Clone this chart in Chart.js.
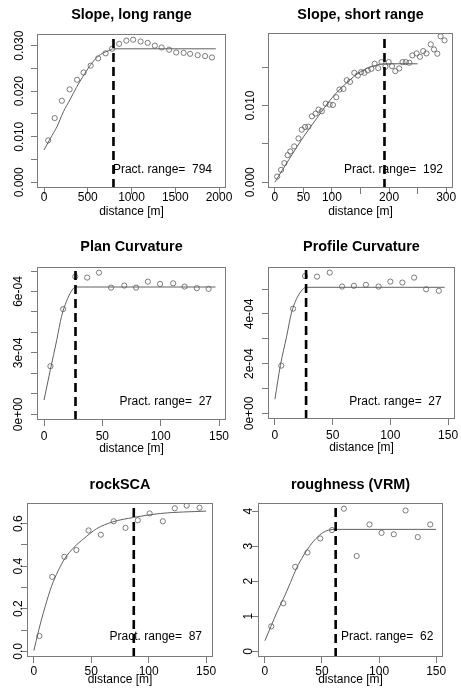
<!DOCTYPE html>
<html><head><meta charset="utf-8">
<script src="https://cdn.jsdelivr.net/npm/chart.js@4/dist/chart.umd.min.js"></script>
<style>
html,body{margin:0;padding:0;background:#fff;}
#wrap{position:relative;width:461px;height:690px;overflow:hidden;background:#fff;}
canvas{position:absolute;}
</style></head><body><div id="wrap">
<canvas id="c1"></canvas><canvas id="c2"></canvas><canvas id="c3"></canvas>
<canvas id="c4"></canvas><canvas id="c5"></canvas><canvas id="c6"></canvas>
</div>
<script>
// ---------- DATA ----------
const titles = ['Slope, long range', 'Slope, short range', 'Plan Curvature', 'Profile Curvature', 'rockSCA', 'roughness (VRM)'];
const practRanges = [794, 192, 27, 27, 87, 62];

// Slope, long range
const slopeLongDist = [48,122,204,293,378,452,533,619,704,778,859,941,1019,1104,1185,1267,1344,1430,1511,1596,1670,1756,1841,1919];
const slopeLongGamma = [0.0092,0.0141,0.0179,0.0204,0.0225,0.0241,0.0256,0.0272,0.0283,0.0293,0.0304,0.0311,0.0313,0.0309,0.0306,0.0300,0.0296,0.0291,0.0285,0.0284,0.0282,0.0279,0.0277,0.0274];
const slopeLongModelDist = [0,74,148,222,296,370,444,519,593,667,741,794,1963];
const slopeLongModelGamma = [0.0071,0.0097,0.0122,0.0155,0.0181,0.0208,0.0232,0.0254,0.0272,0.0283,0.0289,0.0293,0.0293];

// Slope, short range
const slopeShortDist = [4,10.9,16.7,22.4,27,33.9,41.4,47.1,52.9,58.6,64.9,71.3,76.4,82.2,89.1,96,101.7,107.5,113.2,120.1,125.9,131.6,139.1,145.4,151.1,156.9,162.6,169,174.7,181,186.8,193.7,199.4,205.2,210.9,217.8,223.6,229.3,235.6,240.8,248.3,254,259.8,265.5,273,278.7,284.5,290.2,297.1];
const slopeShortGamma = [0.00074,0.00161,0.00249,0.00353,0.00401,0.00467,0.00571,0.00685,0.0072,0.00724,0.00859,0.00894,0.00946,0.00925,0.01025,0.01012,0.01007,0.01108,0.01208,0.01217,0.0133,0.01308,0.01426,0.01391,0.01435,0.01426,0.01457,0.01478,0.01544,0.01487,0.01566,0.01505,0.01566,0.01513,0.01448,0.01483,0.01566,0.01566,0.01557,0.01653,0.01679,0.01635,0.01709,0.01679,0.01797,0.01731,0.01675,0.01902,0.01849];
const slopeShortModelDist = [0,25,50,75,100,125,150,175,192,250];
const slopeShortModelGamma = [0,0.0030,0.0059,0.0085,0.0110,0.0129,0.0144,0.0152,0.01544,0.01544];

// Plan Curvature
const planDist = [5.5,16.4,26.8,37.0,47.1,57.5,68.8,78.9,89.0,99.5,110.7,120.5,131.0,141.1];
const planGamma = [2.35e-4,5.14e-4,6.73e-4,6.68e-4,6.92e-4,6.19e-4,6.29e-4,6.19e-4,6.48e-4,6.37e-4,6.40e-4,6.24e-4,6.16e-4,6.13e-4];
const planModelDist = [0,5.5,11,15,19.2,23.3,27,147];
const planModelGamma = [0.70e-4,2.19e-4,3.65e-4,4.78e-4,5.51e-4,6.0e-4,6.22e-4,6.22e-4];

// Profile Curvature
const profDist = [5.5,15.7,26.1,36.5,47.5,58.2,68.4,78.8,89.8,100,110.4,120.6,131,142];
const profGamma = [1.92e-4,4.21e-4,5.52e-4,5.50e-4,5.66e-4,5.10e-4,5.13e-4,5.17e-4,5.10e-4,5.30e-4,5.26e-4,5.46e-4,4.99e-4,4.93e-4];
const profModelDist = [0,4.7,10.2,14.3,18.4,22.5,27,147];
const profModelGamma = [0.57e-4,1.92e-4,3.11e-4,4.04e-4,4.57e-4,4.90e-4,5.07e-4,5.07e-4];

// rockSCA
const rockDist = [4.8,16.0,26.6,37.0,47.6,58.3,69.5,79.8,90.5,100.8,112.3,122.7,133.1,144.3];
const rockGamma = [0.072,0.350,0.444,0.476,0.568,0.548,0.611,0.580,0.616,0.648,0.611,0.672,0.685,0.675];
const rockModelDist = [0,4.2,9.8,15.4,21,26.6,35,43.4,54.6,68.6,86.8,110.6,150];
const rockModelGamma = [0.003,0.099,0.21,0.306,0.377,0.433,0.489,0.529,0.576,0.608,0.629,0.648,0.659];

// roughness (VRM)
const vrmDist = [5.6,16.2,26.6,37.3,48.5,58.8,69.2,80.4,91.6,102.2,112.9,123.2,133.9,144.8];
const vrmGamma = [0.71,1.37,2.41,2.82,3.22,3.46,4.07,2.72,3.62,3.38,3.34,4.02,3.26,3.62];
const vrmModelDist = [0,5.6,11.2,16.8,22.4,28,33.6,39.2,44.8,50.4,56,62,150];
const vrmModelGamma = [0.30,0.73,1.16,1.54,1.96,2.39,2.72,3.00,3.22,3.38,3.46,3.48,3.48];

// axis limits and ticks
const xLimits = [[-80,2080],[-12,312],[-6,156],[-6,156],[-6,156],[-6,156]];
const yLimits = [[-0.00125,0.03255],[-0.00075,0.01945],[-0.277e-4,7.197e-4],[-0.226e-4,5.886e-4],[-0.0268,0.697],[-0.163,4.233]];
const xTickVals = [[0,500,1000,1500,2000],[0,50,100,150,200,250,300],[0,50,100,150],[0,50,100,150],[0,50,100,150],[0,50,100,150]];
const xTickLabels = [['0','500','1000','1500','2000'],['0','50','100','','200','','300'],['0','50','100','150'],['0','50','100','150'],['0','50','100','150'],['0','50','100','150']];
const yTickVals = [[0,0.005,0.010,0.015,0.020,0.025,0.030],[0,0.005,0.010,0.015],[0,1e-4,2e-4,3e-4,4e-4,5e-4,6e-4,7e-4],[0,1e-4,2e-4,3e-4,4e-4,5e-4],[0,0.1,0.2,0.3,0.4,0.5,0.6],[0,1,2,3,4]];
const yTickLabels = [['0.000','','0.010','','0.020','','0.030'],['0.000','','0.010',''],['0e+00','','','3e-04','','','6e-04',''],['0e+00','','2e-04','','4e-04',''],['0.0','','0.2','','0.4','','0.6'],['0','1','2','3','4']];
const xTitle = 'distance [m]';

// ---------- LAYOUT (page pixel positions) ----------
const layouts = [
 {cx:0,  cy:0,  cw:250,ch:230, fl:37, ft:34, fr:226, fb:188, titleY:15,  xTickY:198, xLabY:212, yLabX:20,  practR:212, practY:170},
 {cx:215,cy:0,  cw:260,ch:230, fl:268,ft:33, fr:453, fb:188, titleY:15,  xTickY:198, xLabY:212, yLabX:251, practR:443, practY:170},
 {cx:0,  cy:230,cw:250,ch:230, fl:37, ft:267,fr:226, fb:420, titleY:246.7,xTickY:436.5,xLabY:448.5,yLabX:19,  practR:212, practY:401.7},
 {cx:215,cy:230,cw:260,ch:230, fl:268,ft:267,fr:455, fb:419, titleY:246.7,xTickY:436, xLabY:448,yLabX:250,practR:441.7,practY:401.7},
 {cx:0,  cy:460,cw:250,ch:230, fl:27, ft:503,fr:213, fb:657, titleY:485, xTickY:671.5,xLabY:680, yLabX:18.5,practR:202, practY:636.7},
 {cx:215,cy:460,cw:260,ch:230, fl:258,ft:503,fr:443, fb:657, titleY:485, xTickY:671.5,xLabY:680, yLabX:249, practR:433.3,practY:636.7}
];

const series = [
 [slopeLongDist, slopeLongGamma, slopeLongModelDist, slopeLongModelGamma],
 [slopeShortDist, slopeShortGamma, slopeShortModelDist, slopeShortModelGamma],
 [planDist, planGamma, planModelDist, planModelGamma],
 [profDist, profGamma, profModelDist, profModelGamma],
 [rockDist, rockGamma, rockModelDist, rockModelGamma],
 [vrmDist, vrmGamma, vrmModelDist, vrmModelGamma]
];

const FONT = "'Liberation Sans', Arial, Helvetica, sans-serif";
const FRAME = '#7a7a7a';
const PTCOL = '#5a5a5a';
const TL = 6;

const rPlugin = {
  id: 'rstyle',
  afterDatasetsDraw(chart) {
    const o = chart.options.plugins.rstyle;
    const {ctx, chartArea: a} = chart;
    ctx.save();
    ctx.strokeStyle = FRAME; ctx.lineWidth = 1;
    ctx.strokeRect(Math.round(a.left) + 0.5, Math.round(a.top) + 0.5, Math.round(a.right - a.left) - 1, Math.round(a.bottom - a.top) - 1);
    ctx.fillStyle = '#000';
    ctx.font = 'bold 14.4px ' + FONT;
    ctx.textAlign = 'center'; ctx.textBaseline = 'middle';
    ctx.fillText(o.title, (a.left + a.right) / 2, o.titleY);
    ctx.font = '12px ' + FONT;
    const ys = chart.scales.y;
    o.yVals.forEach((v, i) => {
      const lab = o.yLabs[i];
      if (!lab) return;
      ctx.save();
      ctx.translate(o.yLabX, ys.getPixelForValue(v));
      ctx.rotate(-Math.PI / 2);
      ctx.fillText(lab, 0, 0);
      ctx.restore();
    });
    ctx.textAlign = 'right';
    ctx.fillText('Pract. range=  ' + o.range, o.practR, o.practY);
    ctx.restore();
  }
};

function makePanel(k) {
  const L = layouts[k];
  const [dx, dy, mx, my] = series[k];
  const cv = document.getElementById('c' + (k + 1));
  cv.width = L.cw; cv.height = L.ch;
  cv.style.left = L.cx + 'px'; cv.style.top = L.cy + 'px';
  cv.style.width = L.cw + 'px'; cv.style.height = L.ch + 'px';
  const yl = yLimits[k], xl = xLimits[k];
  new Chart(cv, {
    type: 'scatter',
    data: {
      datasets: [
        { type: 'line', data: [{x: practRanges[k], y: yl[0]}, {x: practRanges[k], y: yl[1]}],
          borderColor: '#000', borderWidth: 2.6, borderDash: [9, 5], pointRadius: 0, fill: false, order: 0 },
        { type: 'scatter', data: dx.map((x, i) => ({x, y: dy[i]})),
          pointRadius: 2.6, pointBorderWidth: 0.8, borderColor: PTCOL, backgroundColor: 'rgba(0,0,0,0)', pointStyle: 'circle', order: 1 },
        { type: 'line', data: mx.map((x, i) => ({x, y: my[i]})),
          borderColor: '#606060', borderWidth: 1, pointRadius: 0, fill: false, cubicInterpolationMode: 'monotone', order: 2 }
      ]
    },
    options: {
      responsive: false, animation: false, devicePixelRatio: 1,
      layout: { padding: { top: L.ft - L.cy, right: L.cx + L.cw - L.fr, bottom: 0, left: 0 } },
      plugins: {
        legend: { display: false }, tooltip: { enabled: false },
        rstyle: { title: titles[k], titleY: L.titleY - L.cy, yVals: yTickVals[k], yLabs: yTickLabels[k],
                  yLabX: L.yLabX - L.cx, range: practRanges[k], practR: L.practR - L.cx, practY: L.practY - L.cy }
      },
      scales: {
        x: {
          type: 'linear', position: 'bottom', min: xl[0], max: xl[1], bounds: 'data',
          afterBuildTicks: s => { s.ticks = xTickVals[k].map(v => ({value: v})); },
          afterFit: s => { s.height = L.cy + L.ch - L.fb; },
          ticks: { callback: (v, i) => xTickLabels[k][i], font: {family: FONT, size: 12}, color: '#000',
                   padding: (L.xTickY - L.fb) - TL - 7.2, maxRotation: 0, minRotation: 0, autoSkip: false },
          grid: { drawOnChartArea: false, drawTicks: true, tickLength: TL, color: FRAME, lineWidth: 1 },
          border: { display: false },
          title: { display: true, text: xTitle, font: {family: FONT, size: 12}, color: '#000',
                   padding: { top: 0, bottom: L.cy + L.ch - 7.2 - L.xLabY } }
        },
        y: {
          type: 'linear', position: 'left', min: yl[0], max: yl[1], bounds: 'data',
          afterBuildTicks: s => { s.ticks = yTickVals[k].map(v => ({value: v})); },
          afterFit: s => { s.width = L.fl - L.cx; },
          ticks: { display: false },
          grid: { drawOnChartArea: false, drawTicks: true, tickLength: TL, color: FRAME, lineWidth: 1 },
          border: { display: false }
        }
      }
    },
    plugins: [rPlugin]
  });
}
for (let k = 0; k < 6; k++) makePanel(k);
</script>
</body></html>
